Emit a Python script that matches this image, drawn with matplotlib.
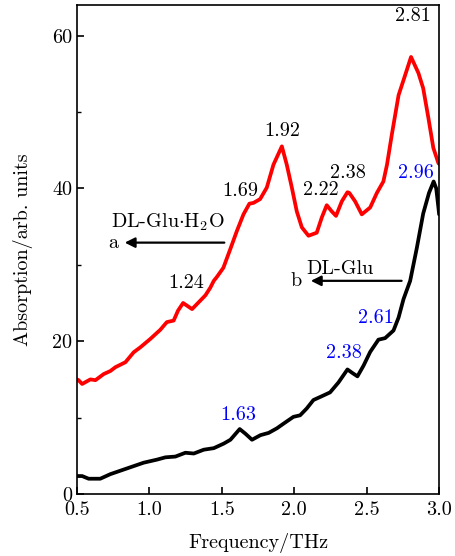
import matplotlib
matplotlib.use('Agg')
import matplotlib.pyplot as plt

plt.rcParams['font.family'] = ['cmr10', 'DejaVu Serif']
plt.rcParams['mathtext.fontset'] = 'cm'
plt.rcParams['axes.formatter.use_mathtext'] = True

# curve a: DL-Glu.H2O (red)
freq_a = [0.50, 0.51, 0.535, 0.592, 0.627, 0.684, 0.73, 0.765, 0.834, 0.891, 0.937,
          1.006, 1.075, 1.12, 1.167, 1.197, 1.232, 1.294, 1.34, 1.386, 1.42, 1.444,
          1.465, 1.51, 1.557, 1.603, 1.649, 1.69, 1.718, 1.764, 1.81, 1.856, 1.914,
          1.948, 1.983, 2.017, 2.052, 2.098, 2.155, 2.19, 2.224, 2.258, 2.288, 2.328,
          2.367, 2.38, 2.42, 2.466, 2.524, 2.57, 2.615, 2.64, 2.673, 2.72, 2.765,
          2.806, 2.857, 2.89, 2.926, 2.96, 2.995, 3.00]
abs_a = [15.0, 14.9, 14.4, 15.0, 14.9, 15.7, 16.1, 16.6, 17.25, 18.55, 19.2,
         20.3, 21.5, 22.5, 22.7, 24.0, 25.0, 24.2, 25.1, 26.0, 27.0, 27.9,
         28.4, 29.6, 32.0, 34.4, 36.6, 38.0, 38.1, 38.6, 40.1, 43.1, 45.5,
         43.1, 40.1, 37.0, 34.9, 33.8, 34.2, 36.2, 37.8, 37.0, 36.4, 38.3,
         39.5, 39.4, 38.3, 36.6, 37.5, 39.4, 40.9, 43.1, 47.0, 52.2, 54.8,
         57.2, 55.1, 53.1, 49.2, 45.3, 43.3, 43.2]

# curve b: DL-Glu (black)
freq_b = [0.50, 0.535, 0.58, 0.66, 0.73, 0.845, 0.96, 1.052, 1.11, 1.179, 1.248,
          1.306, 1.375, 1.444, 1.513, 1.559, 1.623, 1.662, 1.708, 1.766, 1.823,
          1.88, 1.925, 1.994, 2.04, 2.086, 2.132, 2.19, 2.247, 2.305, 2.367,
          2.404, 2.436, 2.478, 2.524, 2.581, 2.627, 2.685, 2.72, 2.754, 2.80,
          2.846, 2.89, 2.93, 2.962, 2.98, 2.995, 3.00]
abs_b = [2.35, 2.35, 2.0, 2.0, 2.6, 3.35, 4.1, 4.5, 4.8, 4.9, 5.4,
         5.3, 5.8, 6.0, 6.6, 7.1, 8.5, 7.9, 7.1, 7.7, 8.0,
         8.6, 9.2, 10.1, 10.3, 11.2, 12.3, 12.8, 13.3, 14.6, 16.3,
         15.8, 15.4, 16.8, 18.6, 20.2, 20.4, 21.4, 23.1, 25.5, 27.9,
         32.2, 36.7, 39.4, 40.9, 40.0, 37.5, 36.6]

# peak labels: (text, x, y, colour)
peaks = [
    ('2.81', 2.82, 62.5, 'black'),
    ('1.92', 1.916, 47.5, 'black'),
    ('1.69', 1.626, 39.6, 'black'),
    ('2.22', 2.185, 39.8, 'black'),
    ('2.38', 2.37, 42.0, 'black'),
    ('1.24', 1.25, 27.6, 'black'),
    ('2.96', 2.84, 42.0, 'blue'),
    ('2.61', 2.565, 23.0, 'blue'),
    ('2.38', 2.34, 18.4, 'blue'),
    ('1.63', 1.61, 10.3, 'blue'),
]

fs = 14.5

fig = plt.figure(figsize=(4.56, 5.56), dpi=100)
ax = fig.add_axes([0.169, 0.1115, 0.794, 0.8795])

ax.plot(freq_a, abs_a, color='red', lw=2.7, solid_joinstyle='round', solid_capstyle='round')
ax.plot(freq_b, abs_b, color='black', lw=2.7, solid_joinstyle='round', solid_capstyle='round')

for txt, x, y, c in peaks:
    ax.text(x, y, txt, color=c, fontsize=fs, ha='center', va='center')

ax.text(1.13, 35.6, r'DL-Glu$\cdot$H$_2$O', fontsize=fs, ha='center', va='center')
ax.annotate('', xy=(0.81, 32.9), xytext=(1.536, 32.9),
            arrowprops=dict(arrowstyle='-|>', color='black', lw=1.6, mutation_scale=15))
ax.text(0.75, 32.9, 'a', fontsize=fs, ha='center', va='center')

ax.text(2.316, 29.5, 'DL-Glu', fontsize=fs, ha='center', va='center')
ax.annotate('', xy=(2.095, 27.9), xytext=(2.76, 27.9),
            arrowprops=dict(arrowstyle='-|>', color='black', lw=1.6, mutation_scale=15))
ax.text(2.01, 27.9, 'b', fontsize=fs, ha='center', va='center')

ax.set_xlim(0.5, 3.0)
ax.set_ylim(0, 64)
ax.set_xticks([0.5, 1.0, 1.5, 2.0, 2.5, 3.0])
ax.set_xticklabels(['0.5', '1.0', '1.5', '2.0', '2.5', '3.0'])
ax.set_yticks([0, 20, 40, 60])
ax.set_yticklabels(['0', '20', '40', '60'])
ax.set_yticks([10, 30, 50], minor=True)
ax.tick_params(direction='in', labelsize=fs, length=5, width=1.2)
ax.tick_params(axis='x', pad=5)
ax.tick_params(which='minor', direction='in', length=3, width=1)
for s in ax.spines.values():
    s.set_linewidth(1.2)

ax.set_xlabel('Frequency/THz', fontsize=fs, labelpad=10)
ax.set_ylabel('Absorption/arb. units', fontsize=fs, labelpad=14)

fig.savefig('out.png', dpi=100)
